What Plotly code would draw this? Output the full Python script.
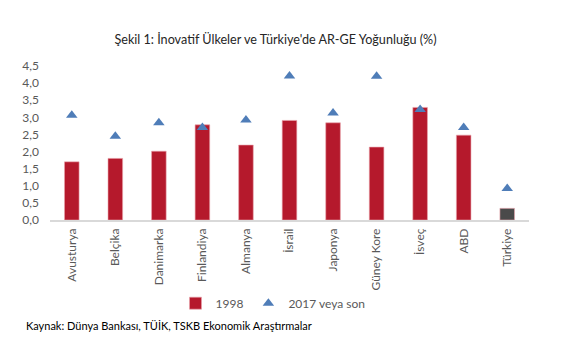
import plotly.graph_objects as go

countries = ["Avusturya", "Belçika", "Danimarka", "Finlandiya", "Almanya", "İsrail",
             "Japonya", "Güney Kore", "İsveç", "ABD", "Türkiye"]
v1998 = [1.70, 1.80, 2.01, 2.78, 2.19, 2.91, 2.84, 2.13, 3.29, 2.48, 0.34]
v2017 = [3.06, 2.45, 2.84, 2.70, 2.92, 4.21, 3.13, 4.20, 3.23, 2.70, 0.92]
bar_colors = ["#b5192c"] * 10 + ["#4a4a4a"]
yticks = [0, 0.5, 1.0, 1.5, 2.0, 2.5, 3.0, 3.5, 4.0, 4.5]
ytick_text = ["0,0", "0,5", "1,0", "1,5", "2,0", "2,5", "3,0", "3,5", "4,0", "4,5"]

font_main = "Lato, Open Sans, sans-serif"

fig = go.Figure()
fig.add_trace(go.Bar(x=countries, y=v1998, name="1998", width=0.335,
                     marker=dict(color=bar_colors, line=dict(color="#e9a3ab", width=0.6))))
fig.add_trace(go.Scatter(x=countries, y=v2017, name="2017 veya son", mode="markers",
                         marker=dict(symbol="triangle-up", size=10, color="#4f7db8")))

fig.update_layout(
    width=580, height=353,
    margin=dict(l=50, r=51, t=66, b=133),
    paper_bgcolor="white", plot_bgcolor="white",
    font=dict(family=font_main, size=12, color="#595959"),
    showlegend=True,
    legend=dict(orientation="h", x=0.262, y=-0.54, xanchor="left", yanchor="middle",
                font=dict(size=12, color="#595959"), itemwidth=30, traceorder="normal"),
    title=dict(text="Şekil 1: İnovatif Ülkeler ve Türkiye'de AR-GE Yoğunluğu (%)",
               x=0.475, xanchor="center", y=0.887, yanchor="middle",
               font=dict(family=font_main, size=12.6, color="#262626")),
    bargap=0.66,
)
fig.update_xaxes(showline=True, linecolor="#d9d9d9", linewidth=1.5, ticks="",
                 tickangle=-90, tickfont=dict(size=12, color="#595959"),
                 range=[-0.5, 10.5], ticklabelstandoff=2)
fig.update_yaxes(range=[0, 4.5], tickvals=yticks, ticktext=ytick_text, showgrid=False,
                 zeroline=False, showline=False, ticks="", ticklabelstandoff=10,
                 tickfont=dict(size=12, color="#595959"))

fig.add_annotation(text="Kaynak: Dünya Bankası, TÜİK, TSKB Ekonomik Araştırmalar",
                   xref="paper", yref="paper", x=-0.054, y=-0.682, xanchor="left", yanchor="middle",
                   showarrow=False, font=dict(family=font_main, size=11, color="#000000"))

fig.write_html("out.html")
